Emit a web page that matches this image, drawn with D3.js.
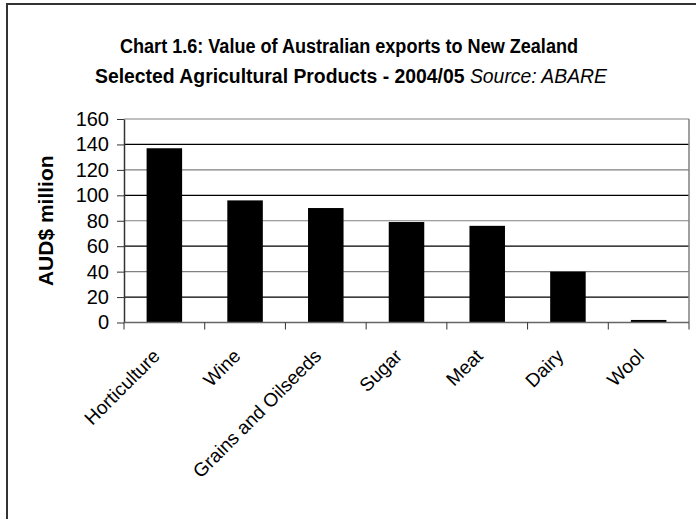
<!DOCTYPE html>
<html lang="en">
<head>
    <meta charset="UTF-8">
    <title>Chart 1.6: Value of Australian exports to New Zealand</title>
    <script src="https://d3js.org/d3.v7.min.js"></script>
    <style>
        body { margin: 0; background: #fff; font-family: "Liberation Sans", Arial, sans-serif; }
    </style>
</head>
<body>
    <div id="chart"></div>

    <script>
        // Data
        const categories = ["Horticulture", "Wine", "Grains and Oilseeds", "Sugar", "Meat", "Dairy", "Wool"];
        const values = [137, 96, 90, 79, 76, 40, 2];
        const yTicks = [0, 20, 40, 60, 80, 100, 120, 140, 160];

        const W = 696, H = 519;
        const margin = { top: 119, right: 7, bottom: 196.5, left: 124 };
        const width = W - margin.left - margin.right;
        const height = H - margin.top - margin.bottom;

        const svg = d3.select("#chart")
            .append("svg")
            .attr("width", W)
            .attr("height", H);

        // Outer frame (runs off the right and bottom edges)
        svg.append("rect")
            .attr("x", 7)
            .attr("y", 4)
            .attr("width", W + 10)
            .attr("height", H + 10)
            .attr("fill", "#fff")
            .attr("stroke", "#333")
            .attr("stroke-width", 2);

        // Title, two lines, squeezed to the reference widths
        svg.append("text")
            .attr("x", 349).attr("y", 53)
            .attr("text-anchor", "middle")
            .attr("font-size", "20px")
            .attr("font-weight", "bold")
            .attr("textLength", 458)
            .attr("lengthAdjust", "spacingAndGlyphs")
            .text("Chart 1.6: Value of Australian exports to New Zealand");

        const t2 = svg.append("text")
            .attr("x", 351).attr("y", 83)
            .attr("text-anchor", "middle")
            .attr("font-size", "20px")
            .attr("textLength", 512)
            .attr("lengthAdjust", "spacingAndGlyphs");
        t2.append("tspan").attr("font-weight", "bold").text("Selected Agricultural Products - 2004/05 ");
        t2.append("tspan").attr("font-style", "italic").text("Source: ABARE");

        const g = svg.append("g")
            .attr("transform", `translate(${margin.left},${margin.top})`);

        const x = d3.scaleBand()
            .domain(categories)
            .range([0, width])
            .paddingInner(0.56)
            .paddingOuter(0.28);

        const xTicks = d3.scaleBand()
            .domain(categories)
            .range([0, width]);

        const y = d3.scaleLinear()
            .domain([0, 160])
            .range([height, 0]);

        // Grid lines (alternating tone as in the reference)
        g.append("g")
            .selectAll("line")
            .data(yTicks.filter(d => d > 0))
            .join("line")
            .attr("x1", 0)
            .attr("x2", width)
            .attr("y1", d => y(d))
            .attr("y2", d => y(d))
            .attr("stroke", d => (d / 20) % 2 === 0 ? "#808080" : "#000")
            .attr("stroke-width", 1.2);

        // Right border of the plot area
        g.append("line")
            .attr("x1", width).attr("x2", width)
            .attr("y1", 0).attr("y2", height)
            .attr("stroke", "#808080")
            .attr("stroke-width", 1.5);

        // Bars
        g.selectAll("rect.bar")
            .data(values)
            .join("rect")
            .attr("class", "bar")
            .attr("x", (d, i) => x(categories[i]))
            .attr("y", d => y(d))
            .attr("width", x.bandwidth())
            .attr("height", d => height - y(d))
            .attr("fill", "#000");

        // Y axis
        g.append("g")
            .call(d3.axisLeft(y).tickValues(yTicks).tickSize(7).tickSizeOuter(0))
            .call(a => a.select(".domain").attr("stroke", "#333").attr("stroke-width", 1.5))
            .call(a => a.selectAll(".tick line").attr("stroke", "#333"))
            .call(a => a.selectAll(".tick text")
                .attr("font-family", "Liberation Sans, Arial, sans-serif")
                .attr("font-size", "20px")
                .attr("fill", "#000")
                .attr("x", -15));

        // X axis: tick marks on band edges
        const xa = g.append("g")
            .attr("transform", `translate(0,${height})`);
        xa.append("line")
            .attr("x1", 0).attr("x2", width)
            .attr("stroke", "#666")
            .attr("stroke-width", 1.5);
        xa.selectAll("line.tk")
            .data(categories.concat(["end"]))
            .join("line")
            .attr("class", "tk")
            .attr("x1", (d, i) => i < categories.length ? xTicks(d) : width)
            .attr("x2", (d, i) => i < categories.length ? xTicks(d) : width)
            .attr("y1", 0)
            .attr("y2", 7)
            .attr("stroke", "#333");

        // Rotated category labels
        xa.selectAll("text")
            .data(categories)
            .join("text")
            .attr("text-anchor", "end")
            .attr("font-size", "19px")
            .attr("fill", "#000")
            .attr("transform", d => `translate(${xTicks(d) + xTicks.bandwidth() / 2 - 8},${30}) rotate(-45)`)
            .attr("dy", "0.35em")
            .text(d => d);

        // Y axis title
        svg.append("text")
            .attr("transform", `translate(53,${margin.top + height / 2}) rotate(-90)`)
            .attr("text-anchor", "middle")
            .attr("font-size", "21px")
            .attr("font-weight", "bold")
            .attr("fill", "#000")
            .text("AUD$ million");
    </script>
</body>
</html>
